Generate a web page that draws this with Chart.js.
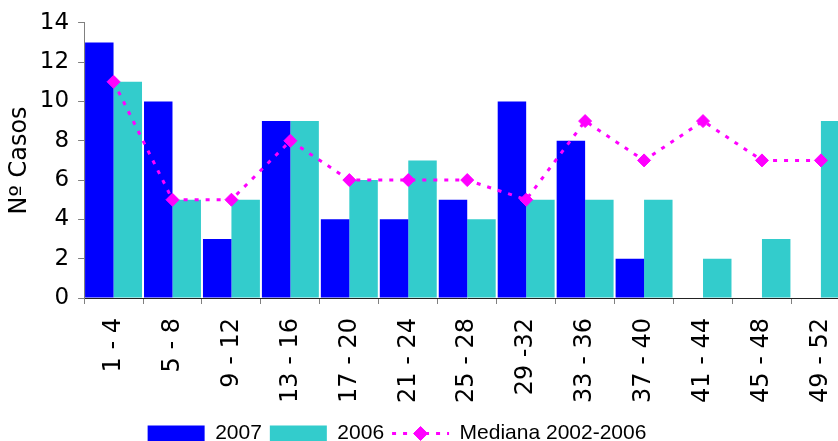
<!DOCTYPE html>
<html>
<head>
<meta charset="utf-8">
<script src="https://cdn.jsdelivr.net/npm/chart.js@4.4.0/dist/chart.umd.min.js"></script>
<style>
  html, body { margin: 0; padding: 0; background: #fff; overflow: hidden; }
  #wrap { width: 864px; height: 454px; }
</style>
</head>
<body>
<div id="wrap"><canvas id="myChart"></canvas></div>
<script>
var weeks = ['1 - 4', '5 - 8', '9 - 12', '13 - 16', '17 - 20', '21 - 24', '25 - 28',
             '29 -32', '33 - 36', '37 - 40', '41 - 44', '45 - 48', '49 - 52'];
var cases2007 = [13, 10, 3, 9, 4, 4, 5, 10, 8, 2, 0, 0, 0];
var cases2006 = [11, 5, 5, 9, 6, 7, 4, 5, 5, 5, 2, 3, 9];
var median0206 = [11, 5, 5, 8, 6, 6, 6, 5, 9, 7, 9, 7, 7];
var yTicks = [0, 2, 4, 6, 8, 10, 12, 14];

Chart.defaults.font.family = "'DejaVu Sans', Verdana, sans-serif";
Chart.defaults.color = '#000';

// moves the legend a bit left and puts the diamond on the median's legend line
var legendTweak = {
    id: 'legendTweak',
    afterLayout: function (chart) {
        chart.legend.left -= 36;
        chart.legend.right -= 36;
    },
    afterDraw: function (chart) {
        var lg = chart.legend;
        var ctx = chart.ctx;
        lg.legendItems.forEach(function (item, i) {
            if (item.datasetIndex !== 2) return;
            var box = lg.legendHitBoxes[i];
            ctx.save();
            ctx.fillStyle = '#ff00ff';
            ctx.strokeStyle = '#ff00ff';
            ctx.lineWidth = 1;
            Chart.helpers.drawPoint(ctx, {pointStyle: 'rectRot', radius: 7, borderWidth: 1, rotation: 0},
                box.left + lg.options.labels.pointStyleWidth / 2, box.top + box.height / 2);
            ctx.restore();
        });
    }
};

var ctx = document.getElementById('myChart').getContext('2d');
var chart = new Chart(ctx, {
    type: 'bar',
    data: {
        labels: weeks,
        datasets: [{
                label: '2007',
                backgroundColor: '#0000ff',
                borderWidth: 0,
                barPercentage: 1,
                categoryPercentage: 0.966,
                order: 1,
                data: cases2007
            },
            {
                label: '2006',
                backgroundColor: '#33cccc',
                borderWidth: 0,
                barPercentage: 1,
                categoryPercentage: 0.966,
                order: 1,
                data: cases2006
            },
            {
                type: 'line',
                label: 'Mediana 2002-2006',
                borderColor: '#ff00ff',
                backgroundColor: '#ff00ff',
                borderWidth: 3,
                borderDash: [4, 7],
                tension: 0,
                fill: false,
                pointStyle: 'rectRot',
                pointRadius: 6.5,
                pointBorderWidth: 1,
                pointBackgroundColor: '#ff00ff',
                order: 0,
                data: median0206
            }
        ]
    },
    options: {
        responsive: true,
        maintainAspectRatio: false,
        animation: false,
        layout: {
            padding: {top: 8, left: 2, right: 0, bottom: 0}
        },
        plugins: {
            tooltip: {enabled: false},
            legend: {
                position: 'bottom',
                labels: {
                    usePointStyle: true,
                    pointStyleWidth: 57,
                    boxHeight: 16,
                    padding: 8,
                    font: {family: "'Liberation Sans', Arial, sans-serif", size: 21},
                    sort: function (a, b) { return a.datasetIndex - b.datasetIndex; },
                    generateLabels: function (chart) {
                        var items = Chart.defaults.plugins.legend.labels.generateLabels(chart);
                        items.forEach(function (it) {
                            if (it.datasetIndex === 2) {
                                it.pointStyle = 'line';
                                it.lineWidth = 3;
                                it.lineDash = [4, 7];
                                it.strokeStyle = '#ff00ff';
                            } else {
                                it.pointStyle = 'rect';
                            }
                        });
                        return items;
                    }
                }
            }
        },
        scales: {
            x: {
                grid: {
                    display: true,
                    drawOnChartArea: false,
                    drawTicks: true,
                    tickLength: 6,
                    color: '#808080'
                },
                border: {display: true, color: '#222', width: 1},
                ticks: {
                    autoSkip: false,
                    minRotation: 90,
                    maxRotation: 90,
                    padding: 14,
                    font: {size: 24}
                },
                afterFit: function (axis) {
                    axis.height -= 2;
                }
            },
            y: {
                min: 0,
                max: 14,
                afterBuildTicks: function (axis) {
                    axis.ticks = yTicks.map(function (v) { return {value: v}; });
                },
                grid: {
                    display: true,
                    drawOnChartArea: false,
                    drawTicks: true,
                    tickLength: 6,
                    color: '#808080'
                },
                border: {display: true, color: '#808080', width: 1},
                ticks: {
                    padding: 9,
                    font: {size: 23}
                },
                title: {
                    display: true,
                    text: 'Nº Casos',
                    font: {size: 24},
                    padding: {top: 3, bottom: -3}
                }
            }
        }
    },
    plugins: [legendTweak]
});
</script>
</body>
</html>
